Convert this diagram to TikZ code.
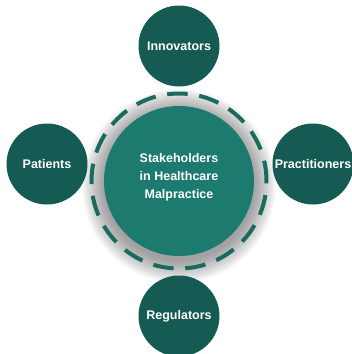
\documentclass[tikz,border=0pt]{standalone}
\usepackage{fontspec}
\setmainfont{Liberation Sans}
\definecolor{outerteal}{HTML}{155B53}
\definecolor{hubteal}{HTML}{1C7A6E}
\definecolor{ringteal}{HTML}{1B6A5F}
\begin{document}
\begin{tikzpicture}[x=1pt,y=-1pt,
  label/.style={text=white,font=\bfseries\fontsize{12.5}{18}\selectfont,align=center},
  satellite/.style={circle,fill=outerteal,minimum size=81pt,inner sep=0pt,label},
  hub/.style={circle,fill=hubteal,minimum size=150pt,inner sep=0pt},
  ring/.style={draw=ringteal,line width=4pt,dash pattern=on 20.5pt off 11.7pt}]
  \useasboundingbox (0,0) rectangle (352,354);
  % soft drop shadow under the hub, built from stacked translucent discs
  \foreach \r in {0,1,...,22}
    \fill[black,opacity=0.018] (179,186) circle[radius={75pt+\r*1.0pt}];
  \node[hub] (hubc) at (179,181) {};
  \node[label] (hubtext) at (179,177) {Stakeholders\\in Healthcare\\Malpractice};
  \draw[ring] (hubc.center) circle[radius=87.5pt];
  \node[satellite] (innov) at (179,46) {Innovators};
  \node[satellite] (pat) at (47,164) {Patients};
  \node[satellite] (prac) at (313,164) {Practitioners};
  \node[satellite] (reg) at (179,316) {Regulators};
\end{tikzpicture}
\end{document}
